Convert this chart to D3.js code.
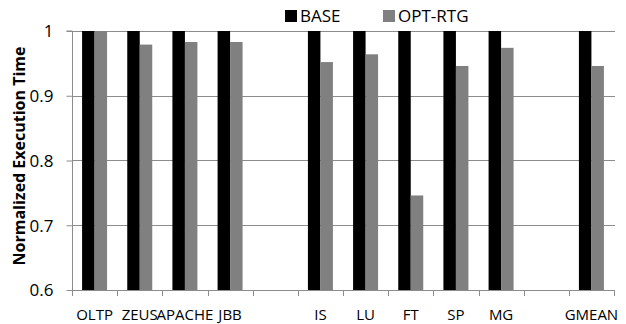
<!DOCTYPE html>
<html>
<head>
<meta charset="utf-8">
<script src="https://cdn.jsdelivr.net/npm/d3@7"></script>
<style>
  html, body { margin: 0; padding: 0; background: #fff; }
  svg { display: block; }
  text { font-family: "Open Sans", "Liberation Sans", sans-serif; fill: #000; }
</style>
</head>
<body>
<svg id="chart" width="626" height="324"></svg>
<script>
// Benchmarks (blank entries are spacer slots between groups)
const categories = ["OLTP", "ZEUS", "APACHE", "JBB", "", "IS", "LU", "FT", "SP", "MG", "", "GMEAN"];
const seriesNames = ["BASE", "OPT-RTG"];
const baseValues = [1, 1, 1, 1, null, 1, 1, 1, 1, 1, null, 1];
const optRtgValues = [1.0, 0.979, 0.983, 0.983, null, 0.952, 0.964, 0.746, 0.946, 0.974, null, 0.946];
const yTicks = [0.6, 0.7, 0.8, 0.9, 1];
const yTickLabels = ["0.6", "0.7", "0.8", "0.9", "1"];
const colors = ["#000000", "#808080"];

const svg = d3.select("#chart");
const plotLeft = 72, plotRight = 614, plotTop = 31, plotBottom = 290;

const x = d3.scaleBand()
  .domain(d3.range(categories.length))
  .range([plotLeft, plotRight])
  .paddingInner(0)
  .paddingOuter(0);

const xInner = d3.scaleBand()
  .domain(seriesNames)
  .range([0, x.bandwidth()])
  .paddingInner(0)
  .paddingOuter(0.807);

const y = d3.scaleLinear().domain([0.6, 1]).range([plotBottom, plotTop]);

const axisColor = "#8c8c8c";

// Horizontal gridlines
svg.append("g")
  .selectAll("line")
  .data(yTicks)
  .join("line")
  .attr("x1", plotLeft)
  .attr("x2", plotRight + 1)
  .attr("y1", d => Math.round(y(d)) + 0.5)
  .attr("y2", d => Math.round(y(d)) + 0.5)
  .attr("stroke", axisColor)
  .attr("stroke-width", 1);

// Bars
const series = [baseValues, optRtgValues];
series.forEach((vals, si) => {
  svg.append("g")
    .selectAll("rect")
    .data(vals.map((v, i) => ({ i, v })).filter(d => d.v !== null))
    .join("rect")
    .attr("x", d => x(d.i) + xInner(seriesNames[si]))
    .attr("width", xInner.bandwidth())
    .attr("y", d => y(d.v))
    .attr("height", d => y(0.6) - y(d.v))
    .attr("fill", colors[si]);
});

// Y axis
const yAxis = svg.append("g").attr("transform", `translate(${plotLeft + 0.5},0)`)
  .call(d3.axisLeft(y).tickValues(yTicks).tickFormat((d, i) => yTickLabels[i]).tickSize(6).tickPadding(13));
yAxis.select(".domain").attr("stroke", axisColor).attr("d", `M-6,${plotTop}H0V${plotBottom + 6}`);
yAxis.selectAll(".tick line").attr("stroke", axisColor);
yAxis.selectAll(".tick text")
  .style("font-family", "'Open Sans', sans-serif")
  .style("font-size", "17px")
  .attr("dy", "0.35em");

// X axis: ticks at band boundaries, labels centred in each band
const xAxisG = svg.append("g");
xAxisG.append("line")
  .attr("x1", plotLeft).attr("x2", plotRight + 1)
  .attr("y1", plotBottom + 0.5).attr("y2", plotBottom + 0.5)
  .attr("stroke", axisColor);
const boundaries = d3.range(categories.length + 1).map(i => plotLeft + i * x.step());
xAxisG.selectAll(".xtick")
  .data(boundaries)
  .join("line")
  .attr("class", "xtick")
  .attr("x1", d => Math.round(d) + 0.5)
  .attr("x2", d => Math.round(d) + 0.5)
  .attr("y1", plotBottom)
  .attr("y2", plotBottom + 6)
  .attr("stroke", axisColor);
xAxisG.selectAll(".xlabel")
  .data(categories)
  .join("text")
  .attr("class", "xlabel")
  .attr("x", (d, i) => x(i) + x.bandwidth() / 2)
  .attr("y", 320)
  .attr("text-anchor", "middle")
  .style("font-size", "15px")
  .text(d => d);

// Y axis title
svg.append("text")
  .attr("transform", `translate(25,156) rotate(-90)`)
  .attr("text-anchor", "middle")
  .style("font-size", "16px")
  .style("font-weight", "bold")
  .text("Normalized Execution Time");

// Legend
const legend = svg.append("g");
const legendX = [285, 383];
seriesNames.forEach((name, i) => {
  legend.append("rect")
    .attr("x", legendX[i]).attr("y", 10)
    .attr("width", 12).attr("height", 12)
    .attr("fill", colors[i]);
  legend.append("text")
    .attr("x", legendX[i] + 15).attr("y", 22)
    .style("font-size", "17px")
    .text(name);
});
</script>
</body>
</html>
